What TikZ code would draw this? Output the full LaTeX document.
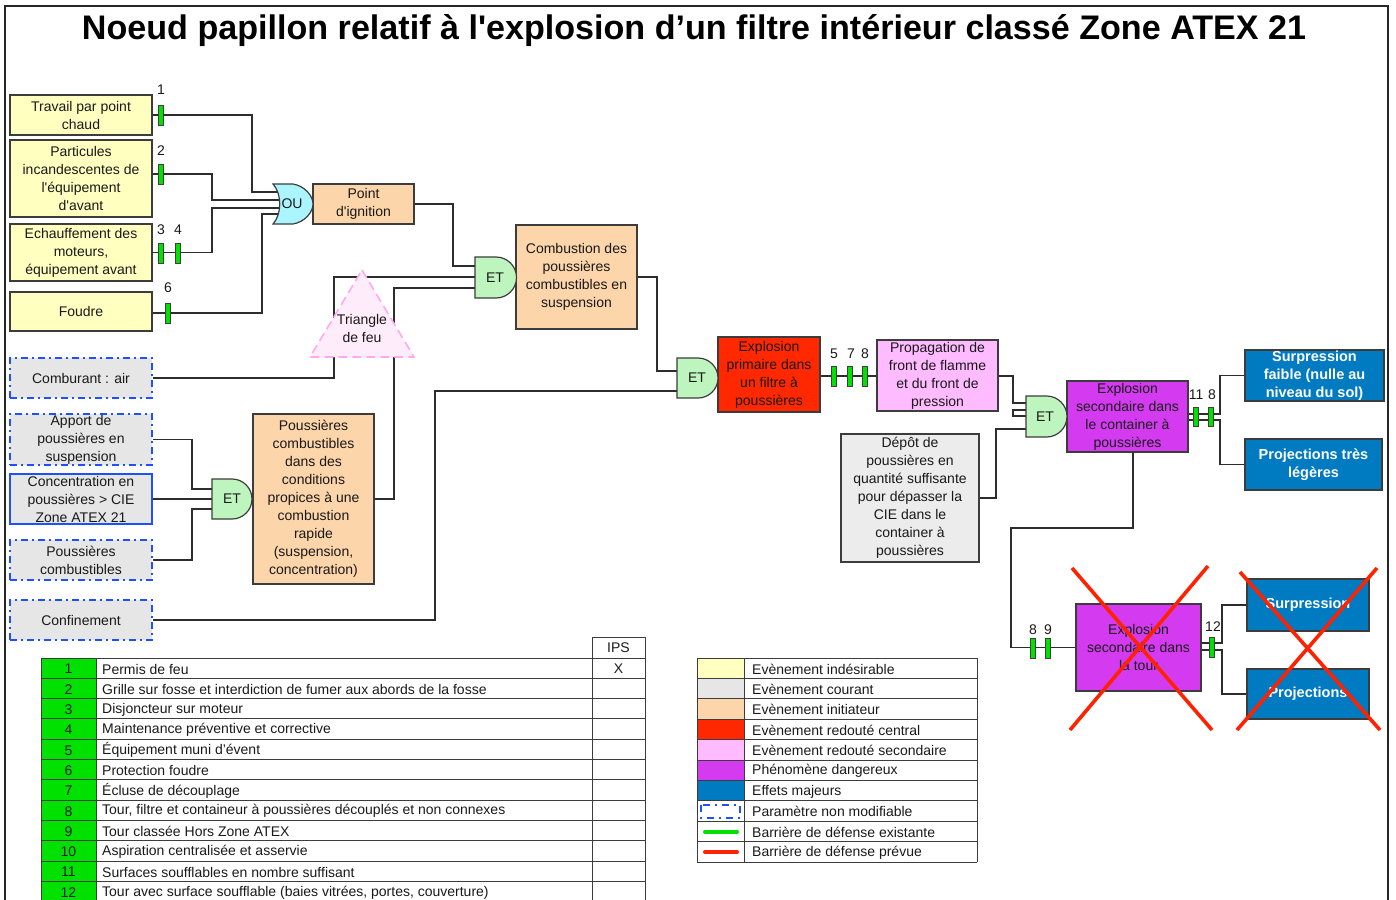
\documentclass[tikz,border=0pt]{standalone}
\usepackage{fontspec}
\usepackage{graphicx}
\setmainfont{Liberation Sans}[Ligatures=TeXOff]
\usetikzlibrary{calc}
\pgfdeclarelayer{bg}
\pgfsetlayers{bg,main}

\definecolor{txt}{RGB}{25,25,25}
\definecolor{bord}{RGB}{60,60,60}
\definecolor{wirec}{RGB}{45,45,45}
\definecolor{cYel}{RGB}{255,255,192}
\definecolor{cGray}{RGB}{230,230,230}
\definecolor{cGrayB}{RGB}{236,236,236}
\definecolor{cPeach}{RGB}{252,213,170}
\definecolor{cRed}{RGB}{255,40,0}
\definecolor{cPink}{RGB}{255,187,255}
\definecolor{cPurple}{RGB}{212,58,240}
\definecolor{cBlue}{RGB}{0,122,192}
\definecolor{cGreen}{RGB}{0,225,0}
\definecolor{cOr}{RGB}{170,245,255}
\definecolor{cAnd}{RGB}{190,245,190}
\definecolor{cTriF}{RGB}{255,236,250}
\definecolor{cTriB}{RGB}{255,170,240}
\definecolor{cDash}{RGB}{30,80,255}
\definecolor{cCross}{RGB}{255,34,0}

\newcommand\fs{\fontsize{14}{18}\selectfont}
\newcommand\fsb{\fontsize{14.5}{18}\selectfont\bfseries}

\tikzset{
  base/.style={rectangle, inner sep=0pt, align=center, font=\fs, text=txt, line width=1.2pt},
  ev/.style={base, draw=bord},
  yel/.style={ev, fill=cYel},
  peach/.style={ev, fill=cPeach},
  grayfix/.style={base, fill=cGray, draw=cDash, line width=1.4pt,
                  dash pattern=on 7pt off 4pt on 2pt off 4pt},
  grayblue/.style={base, fill=cGray, draw=cDash, line width=1.2pt},
  graybox/.style={ev, fill=cGrayB},
  redev/.style={ev, fill=cRed},
  pinkev/.style={ev, fill=cPink},
  purpev/.style={ev, fill=cPurple},
  effect/.style={ev, fill=cBlue, text=white, font=\fsb},
  wire/.style={draw=wirec, line width=1.3pt},
  bar/.style={rectangle, draw=black!75, fill=cGreen, minimum width=5pt,
              minimum height=20pt, inner sep=0pt, line width=0.8pt},
  num/.style={font=\fs, inner sep=0pt, text=txt},
  gatelbl/.style={font=\fs, inner sep=0pt, text=txt, minimum size=40pt},
  andgate/.style={draw=bord, fill=cAnd, line width=1.2pt},
  orgate/.style={draw=bord, fill=cOr, line width=1.2pt},
  cross/.style={draw=cCross, line width=3.6pt},
  cell/.style={draw=bord, line width=1pt},
  tnum/.style={font=\fs, inner sep=0pt, text=txt},
  ttext/.style={font=\fs, inner sep=0pt, text=txt, anchor=west},
}

\begin{document}
\begin{tikzpicture}[x=1pt,y=-1pt]
\useasboundingbox (0,0) rectangle (1396,899);

% outer frame
\draw[line width=2pt, black!85] (5,930) -- (5,6) -- (1388,6) -- (1388,930);

% title
\node[inner sep=0pt] (title) at (694,30.5)
  {\resizebox{1224pt}{!}{\fontsize{30}{36}\selectfont\bfseries Noeud papillon relatif à l'explosion d’un filtre intérieur classé Zone ATEX 21}};

% ---- left column: causes
\node[yel, minimum width=142pt, minimum height=40pt] (tpc) at (81,115) {Travail par point\\chaud};
\node[yel, minimum width=142pt, minimum height=77pt] (part) at (81,178.5) {Particules\\incandescentes de\\l'équipement\\d'avant};
\node[yel, minimum width=142pt, minimum height=57pt] (ech) at (81,252.5) {Echauffement des\\moteurs,\\équipement avant};
\node[yel, minimum width=142pt, minimum height=39pt] (fou) at (81,311.5) {Foudre};
\node[grayfix, minimum width=142pt, minimum height=40pt] (comb) at (81,378) {Comburant : air};
\node[grayfix, minimum width=142pt, minimum height=51pt] (app) at (81,439.5) {Apport de\\poussières en\\suspension};
\node[grayblue, minimum width=142pt, minimum height=50pt] (conc) at (81,499) {Concentration en\\poussières > CIE\\Zone ATEX 21};
\node[grayfix, minimum width=142pt, minimum height=40pt] (pcomb) at (81,560) {Poussières\\combustibles};
\node[grayfix, minimum width=142pt, minimum height=40pt] (conf) at (81,620) {Confinement};

% ---- intermediate events
\node[peach, minimum width=101pt, minimum height=40pt] (pig) at (363.5,204) {Point\\d'ignition};
\node[peach, minimum width=121pt, minimum height=104pt] (cdp) at (576.5,277) {Combustion des\\poussières\\combustibles en\\suspension};
\node[peach, minimum width=121pt, minimum height=170pt] (pcond) at (313.5,499) {Poussières\\combustibles\\dans des\\conditions\\propices à une\\combustion\\rapide\\(suspension,\\concentration)};
\node[redev, minimum width=102pt, minimum height=75pt] (exp1) at (769,374.5) {Explosion\\primaire dans\\un filtre à\\poussières};
\node[pinkev, minimum width=121pt, minimum height=71pt] (prop) at (937.5,375.5) {Propagation de\\front de flamme\\et du front de\\pression};
\node[purpev, minimum width=121pt, minimum height=71pt] (exp2) at (1127.5,416.5) {Explosion\\secondaire dans\\le container à\\poussières};
\node[graybox, minimum width=138pt, minimum height=128pt] (dep) at (910,498) {Dépôt de\\poussières en\\quantité suffisante\\pour dépasser la\\CIE dans le\\container à\\poussières};
\node[purpev, minimum width=125pt, minimum height=87pt] (exp3) at (1138.5,647.5) {Explosion\\secondaire dans\\la tour};

% ---- major effects
\node[effect, minimum width=139pt, minimum height=51pt] (sfa) at (1314.5,375.5) {Surpression\\faible (nulle au\\niveau du sol)};
\node[effect, minimum width=137pt, minimum height=51pt] (ptl) at (1313.5,464.5) {Projections très\\légères};
\node[effect, minimum width=122pt, minimum height=52pt] (sur) at (1308,605) {Surpression};
\node[effect, minimum width=122pt, minimum height=50pt] (proj) at (1308,694) {Projections};

% ---- gate input pins
\coordinate (ou1) at (282,192);
\coordinate (ou2) at (282,200);
\coordinate (ou3) at (282,208);
\coordinate (ou4) at (282,214);
\coordinate (et1a) at (480,266);
\coordinate (et1b) at (480,277);
\coordinate (et1c) at (480,288);
\coordinate (et2a) at (682,371);
\coordinate (et2b) at (682,391);
\coordinate (et3a) at (1030,403);
\coordinate (et3c) at (1030,429);
\coordinate (et4a) at (216,489);
\coordinate (et4b) at (216,499);
\coordinate (et4c) at (216,509);

% ---- connectors (under everything)
\begin{pgfonlayer}{bg}
\draw[wire] (tpc.east) -| (252,192) -- (ou1);
\draw[wire] (part.east |- 0,174) -| (212,200) -- (ou2);
\draw[wire] (ech.east) -| (212,208) -- (ou3);
\draw[wire] (fou.east |- 0,313) -| (262,214) -- (ou4);
\draw[wire] (pig.east) -| (453,266) -- (et1a);
\draw[wire] (comb.east) -| (334,277) -- (et1b);
\draw[wire] (pcond.east) -| (394,288) -- (et1c);
\draw[wire] (app.east) -| (192,489) -- (et4a);
\draw[wire] (conc.east) -- (et4b);
\draw[wire] (pcomb.east) -| (192,509) -- (et4c);
\draw[wire] (cdp.east) -| (657,371) -- (et2a);
\draw[wire] (conf.east) -| (435,391) -- (et2b);
\draw[wire] (exp1.east |- 0,376) -- (prop.west |- 0,376);
\draw[wire] (prop.east |- 0,376) -| (1013,403) -- (et3a);
\draw[wire] (dep.east) -| (996,429) -- (et3c);
\draw[wire] (exp2.east |- 0,414) -| (1220,375.5) -- (sfa.west);
\draw[wire] (exp2.east |- 0,420) -| (1220,464.5) -- (ptl.west);
\draw[wire] ([xshift=5.5pt]exp2.south) |- (1011,528) |- (exp3.west);
\draw[wire] (exp3.east |- 0,643) -| (1222,605) -- (sur.west);
\draw[wire] (exp3.east |- 0,650) -| (1222,694) -- (proj.west);
\end{pgfonlayer}

% unconnected input stub of the third gate
\draw[wire, fill=white] (1013,410) rectangle (1030,416);

% ---- gates
\draw[orgate] (273,184) -- (293,184) .. controls (305,186) and (313,196) .. (313,204)
  .. controls (313,212) and (305,222) .. (293,224) -- (273,224)
  .. controls (282,214) and (282,194) .. (273,184) -- cycle;
\node[gatelbl] (gOU) at (292,204) {OU};

\draw[andgate] (475,257) -- (496,257) arc[start angle=90, end angle=-90, radius=20.5pt] -- (475,298) -- cycle;
\node[gatelbl] (gET1) at (495,277.5) {ET};
\draw[andgate] (677,358) -- (698,358) arc[start angle=90, end angle=-90, radius=20pt] -- (677,398) -- cycle;
\node[gatelbl] (gET2) at (697,378) {ET};
\draw[andgate] (1026,396) -- (1046.5,396) arc[start angle=90, end angle=-90, radius=20.5pt] -- (1026,437) -- cycle;
\node[gatelbl] (gET3) at (1045,416.5) {ET};
\draw[andgate] (212,479) -- (232,479) arc[start angle=90, end angle=-90, radius=20pt] -- (212,519) -- cycle;
\node[gatelbl] (gET4) at (232,499) {ET};

% ---- fire triangle
\draw[fill=cTriF, draw=cTriB, line width=1.6pt, dash pattern=on 9pt off 5pt]
  (362,270) -- (414,357) -- (310,357) -- cycle;
\node[num, align=center] (tri) at (362,328) {Triangle\\de feu};

% ---- safety barriers
\node[bar] (b1) at (161,115) {};
\node[num] (l1) at (161,90) {1};
\node[bar] (b2) at (161,174) {};
\node[num] (l2) at (161,151) {2};
\node[bar] (b3) at (161,253) {};
\node[num] (l3) at (161,230) {3};
\node[bar] (b4) at (178,253) {};
\node[num] (l4) at (178,230) {4};
\node[bar] (b6) at (168,313) {};
\node[num] (l6) at (168,288) {6};
\node[bar] (b5) at (834,376) {};
\node[num] (l5) at (834,354) {5};
\node[bar] (b7) at (850,376) {};
\node[num] (l7) at (851,354) {7};
\node[bar] (b8a) at (865,376) {};
\node[num] (l8a) at (865,354) {8};
\node[bar, minimum height=19pt] (b11) at (1196,416.5) {};
\node[num] (l11) at (1196,395) {11};
\node[bar, minimum height=19pt] (b8b) at (1211,416.5) {};
\node[num] (l8b) at (1212,395) {8};
\node[bar] (b8c) at (1033,648) {};
\node[num] (l8c) at (1033,630) {8};
\node[bar] (b9) at (1048,648) {};
\node[num] (l9) at (1048,630) {9};
\node[bar] (b12) at (1212,647) {};
\node[num] (l12) at (1213,627) {12};

% ---- barriers not in place: crossed out
\draw[cross] (1072,568) -- (1212,730);
\draw[cross] (1208,566) -- (1070,730);
\draw[cross] (1240,572) -- (1380,730);
\draw[cross] (1377,568) -- (1237,730);

% ---- table of barriers
\fill[cGreen] (41,658) rectangle (96,910);
\draw[cell] (592,637) rectangle (645,658);
\node[tnum] (ips) at (618.5,648) {IPS};
\foreach \k in {0,...,12} {
  \draw[cell] (41,658+20.3*\k) -- (645,658+20.3*\k);
}
\foreach \xx in {41,96,592,645} {
  \draw[cell] (\xx,658) -- (\xx,910);
}
\foreach \i/\t in {1/{Permis de feu},
  2/{Grille sur fosse et interdiction de fumer aux abords de la fosse},
  3/{Disjoncteur sur moteur},
  4/{Maintenance préventive et corrective},
  5/{Équipement muni d’évent},
  6/{Protection foudre},
  7/{Écluse de découplage},
  8/{Tour, filtre et containeur à poussières découplés et non connexes},
  9/{Tour classée Hors Zone ATEX},
  10/{Aspiration centralisée et asservie},
  11/{Surfaces soufflables en nombre suffisant},
  12/{Tour avec surface soufflable (baies vitrées, portes, couverture)}} {
  \node[tnum] (n\i) at (68.5,648.8+20.3*\i) {\i};
  \node[ttext] (t\i) at (102,648.8+20.3*\i) {\t};
}
\node[tnum] (x1) at (618.5,669) {X};

% ---- legend
\foreach \i/\c/\t in {1/cYel/{Evènement indésirable},
  2/cGray/{Evènement courant},
  3/cPeach/{Evènement initiateur},
  4/cRed/{Evènement redouté central},
  5/cPink/{Evènement redouté secondaire},
  6/cPurple/{Phénomène dangereux},
  7/cBlue/{Effets majeurs},
  8/white/{Paramètre non modifiable},
  9/white/{Barrière de défense existante},
  10/white/{Barrière de défense prévue}} {
  \fill[\c] (697,658+20.4*\i-20.4) rectangle (744,658+20.4*\i);
  \node[ttext] (lg\i) at (752,648.6+20.4*\i) {\t};
}
\foreach \k in {0,...,10} {
  \draw[cell] (697,658+20.4*\k) -- (977,658+20.4*\k);
}
\foreach \xx in {697,744,977} {
  \draw[cell] (\xx,658) -- (\xx,862);
}
\draw[draw=cDash, line width=1.2pt, dash pattern=on 7pt off 5pt on 2pt off 5pt]
  (701,805) rectangle (740,818);
\draw[draw=cGreen, line width=4pt, line cap=round] (705,831.6) -- (737,831.6);
\draw[draw=cCross, line width=4pt, line cap=round] (705,852) -- (737,852);

\end{tikzpicture}
\end{document}
